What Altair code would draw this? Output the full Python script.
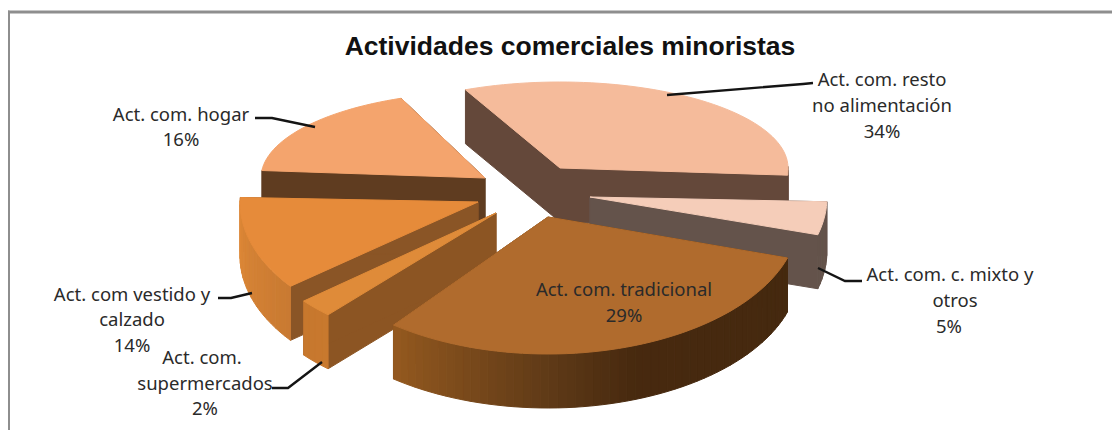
import altair as alt
import math

# ---- data ----
categories = ["Act. com. resto no alimentación", "Act. com. c. mixto y otros", "Act. com. tradicional",
              "Act. com. supermercados", "Act com vestido y calzado", "Act. com. hogar"]
shares = [34, 5, 29, 2, 14, 16]
title_text = "Actividades comerciales minoristas"
label_lines = [["Act. com. resto", "no alimentación"], ["Act. com. c. mixto y", "otros"],
               ["Act. com. tradicional"], ["Act. com.", "supermercados"],
               ["Act. com vestido y", "calzado"], ["Act. com. hogar"]]

# ---- drawing geometry (a tilted, exploded pie seen in perspective) ----
BASE = -114
DEPTH = 54
B_FRONT, B_BACK = 137, 86
apex = [(560, 168), (590, 197), (548, 217), (496, 213), (478, 202), (485, 178)]
rx = [228, 237, 251, 251, 238, 224]
persp = [(-0.5, -5.4), (-6.4, -10.4), (-9, -2.8), (1.2, 2), (4, -5.4), (-3.4, 2)]
top_col = ["#F5BB9B", "#F5CDB9", "#B06B2D", "#DF8B39", "#E68B3A", "#F4A46D"]
wall_col = ["#64483A", "#64534B", "#6B4015", "#8C5523", "#8A5526", "#5F3C20"]
# rim colour stops (angle, colour) per slice
rim_stops = [[(0, "#64483A"), (10, "#64483A")], [(0, "#64534B"), (30, "#64534B")],
             [(20, "#45290F"), (70, "#47290F"), (90, "#5F3A17"), (128, "#94591F")],
             [(120, "#CB7C30"), (150, "#C4752C")], [(130, "#C27530"), (185, "#E08A38")],
             [(180, "#5F3C20"), (190, "#5F3C20")]]
draw_order = [5, 0, 1, 4, 3, 2]
label_pos = [[(882, 79.5), (882, 105.5), (882, 131.5)], [(950, 274.5), (955, 300.5), (949, 326.5)],
             [(624, 289.5), (624, 315.5)], [(202, 357.5), (205, 383.5), (205, 408.5)],
             [(132, 294.5), (132, 319.5), (132, 345.5)], [(181, 114.5), (181, 139.5)]]
leaders = [[(813, 83), (803, 84), (667, 95)], [(818, 268), (845, 281), (862, 281)], [],
           [(272, 388), (288, 388), (322, 362)], [(218, 298), (231, 298), (252, 293)],
           [(255, 118), (272, 118), (315, 127)]]


def hex2rgb(h):
    return [int(h[i:i + 2], 16) for i in (1, 3, 5)]


def rim_colour(stops, t):
    if t <= stops[0][0]:
        return stops[0][1]
    for (t0, c0), (t1, c1) in zip(stops, stops[1:]):
        if t <= t1:
            f = (t - t0) / (t1 - t0)
            a, b = hex2rgb(c0), hex2rgb(c1)
            return "#%02X%02X%02X" % tuple(round(p + (q - p) * f) for p, q in zip(a, b))
    return stops[-1][1]


def rim_pt(i, t):
    r = math.radians(t)
    s = math.sin(r)
    return (apex[i][0] + rx[i] * math.cos(r), apex[i][1] + (B_FRONT if s > 0 else B_BACK) * s)


def poly(points, colour):
    ring = [list(p) for p in points]
    ring.append(ring[0])
    return {"type": "Feature", "properties": {"c": colour},
            "geometry": {"type": "Polygon", "coordinates": [ring]}}


def down(p, d=DEPTH):
    return (p[0], p[1] + d)


starts, ends, cum = [], [], BASE
for s, (p0, p1) in zip(shares, persp):
    starts.append(cum + p0)
    cum += s * 3.6
    ends.append(cum + p1)

features = [poly([(8, 11), (1112, 11), (1112, 13), (8, 13)], "#8E8E8E"),
            poly([(8, 11), (9.5, 11), (9.5, 430), (8, 430)], "#8E8E8E")]
for i in draw_order:
    t0, t1 = starts[i], ends[i]
    n = max(2, int((t1 - t0) / 2))
    ts = [t0 + (t1 - t0) * k / n for k in range(n + 1)]
    # radial walls
    for t in (t0, t1):
        p = rim_pt(i, t)
        features.append(poly([apex[i], p, down(p), down(apex[i])], wall_col[i]))
    # outer rim, in strips shaded by angle
    for a, b in zip(ts, ts[1:]):
        if b > 0 and a < 180:
            pa, pb = rim_pt(i, a), rim_pt(i, b)
            features.append(poly([pa, pb, down(pb), down(pa)], rim_colour(rim_stops[i], (a + b) / 2)))
    # top face
    features.append(poly([apex[i]] + [rim_pt(i, t) for t in ts], top_col[i]))

text_rows = []
for i, lines in enumerate(label_lines):
    for line, (x, y) in zip(lines + [f"{shares[i]}%"], label_pos[i]):
        text_rows.append({"x": x, "y": y, "t": line})
line_rows = [{"id": i, "k": k, "x": x, "y": y}
             for i, pts in enumerate(leaders) for k, (x, y) in enumerate(pts)]

X = dict(scale=alt.Scale(domain=[8, 1112], range=[0, 1104], nice=False, zero=False), axis=None)
Y = dict(scale=alt.Scale(domain=[8, 430], range=[0, 422], nice=False, zero=False), axis=None)

pie = (alt.Chart(alt.Data(values=features))
       .mark_geoshape(strokeWidth=1)
       .encode(fill=alt.Fill("properties.c:N", scale=None, legend=None),
               stroke=alt.Stroke("properties.c:N", scale=None, legend=None))
       .project(type="identity", scale=1, translate=[-8, -8]))
lead = (alt.Chart(alt.Data(values=line_rows))
        .mark_line(color="#141414", strokeWidth=2.4)
        .encode(x=alt.X("x:Q", **X), y=alt.Y("y:Q", **Y), detail="id:N", order="k:Q"))
labels = (alt.Chart(alt.Data(values=text_rows))
          .mark_text(font="Noto Sans", fontSize=18.5, color="#2A2A2A", align="center", baseline="middle")
          .encode(x=alt.X("x:Q", **X), y=alt.Y("y:Q", **Y), text="t:N"))
ttl = (alt.Chart(alt.Data(values=[{"x": 570, "y": 47, "t": title_text}]))
       .mark_text(font="Liberation Sans", fontSize=26.5, fontWeight="bold", color="#111111",
                  align="center", baseline="middle")
       .encode(x=alt.X("x:Q", **X), y=alt.Y("y:Q", **Y), text="t:N"))

chart = (alt.layer(pie, lead, labels, ttl)
         .resolve_scale(color="independent")
         .properties(width=1104, height=422, padding=0, autosize="none", background="white")
         .configure_view(stroke=None))
chart.save("out.html", embed_options={"renderer": "svg", "actions": False})
